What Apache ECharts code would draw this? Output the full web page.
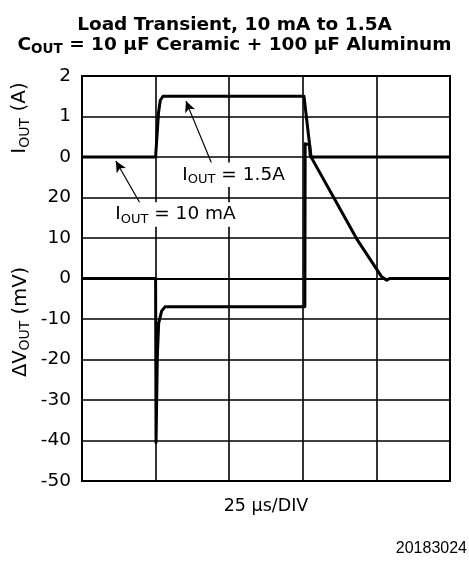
<!DOCTYPE html>
<html><head><meta charset="utf-8">
<script src="https://cdn.jsdelivr.net/npm/echarts@6/dist/echarts.min.js"></script>
<style>html,body{margin:0;padding:0;background:#fff}#c{width:469px;height:561px}</style>
</head><body><div id="c"></div>
<script>
// ---------- data ----------
const titleLine1 = 'Load Transient, 10 mA to 1.5A';
const titleLine2 = '{b|C}{s|OUT}{b| = 10 µF Ceramic + 100 µF Aluminum}';
const xAxisName = '25 µs/DIV';
const footnote = '20183024';
// time in µs (25 µs per division, 5 divisions)
const currentTime = [0, 25, 26.0, 26.6, 27.5, 75.4, 77.8, 125];
const currentAmps = [0, 0, 1.1, 1.4, 1.5, 1.5, 0, 0];
const voltageTime = [0, 25.0, 25.15, 25.6, 26.05, 27.07, 28.2, 75.7, 75.8, 77.3, 77.5, 85.4, 93.3, 101.8, 103.5, 104.5, 125];
const voltageMv   = [0, 0, -40.5, -19, -11, -8, -7, -7, 33.3, 33.0, 30.4, 20.1, 9.8, 0.4, -0.4, 0, 0];
// annotation anchors (µs, A)
const annotText = ['{i|I}{s|OUT}{i| = 1.5A}', '{i|I}{s|OUT}{i| = 10 mA}'];
const annotTextAt = [[33.4, -0.44], [10.6, -1.42]];
const arrowFrom = [[44.5, -0.24], [20.4, -1.23]];
const arrowTo = [[35.3, 1.38], [11.5, -0.10]];

const FONT = 'DejaVu Sans';
const K = '#000';

const zip = (a, b) => a.map((v, i) => [v, b[i]]);
const subRich = (size) => ({
  i: {fontFamily: FONT, fontSize: size, color: K, fill: K, lineHeight: size + 4, verticalAlign: 'middle'},
  s: {fontFamily: FONT, fontSize: Math.round(size * 0.72), color: K, fill: K, lineHeight: Math.round(size * 0.6), verticalAlign: 'bottom'}
});

const chart = echarts.init(document.getElementById('c'));
chart.setOption({
  animation: false,
  backgroundColor: '#fff',
  title: [
    {text: titleLine1, left: 'center', top: 11,
     textStyle: {fontFamily: FONT, fontSize: 18.5, fontWeight: 'bold', color: K}},
    {text: titleLine2, left: 'center', top: 29,
     textStyle: {rich: {
       b: {fontFamily: FONT, fontSize: 18.5, fontWeight: 'bold', color: K, lineHeight: 22, verticalAlign: 'middle'},
       s: {fontFamily: FONT, fontSize: 13.5, fontWeight: 'bold', color: K, lineHeight: 11, verticalAlign: 'bottom'}
     }}}
  ],
  grid: {left: 82, right: 19, top: 76, bottom: 80, show: true, borderColor: K, borderWidth: 2},
  xAxis: {
    type: 'value', min: 0, max: 125, interval: 25,
    axisLabel: {show: false}, axisTick: {show: false},
    axisLine: {show: true, lineStyle: {color: K, width: 2}},
    splitLine: {show: true, lineStyle: {color: K, width: 1.6}},
    name: xAxisName, nameLocation: 'middle', nameGap: 16,
    nameTextStyle: {fontFamily: FONT, fontSize: 17.5, color: K, verticalAlign: 'top'}
  },
  yAxis: [
    {type: 'value', min: -50, max: 50, interval: 10, position: 'left',
     axisLine: {show: true, lineStyle: {color: K, width: 2}}, axisTick: {show: false},
     splitLine: {show: true, lineStyle: {color: K, width: 1.6}},
     axisLabel: {margin: 11, fontFamily: FONT, fontSize: 18.5, color: K,
                 formatter: v => (v <= 20 ? String(v) : '')}},
    {type: 'value', min: -8, max: 2, interval: 1, position: 'left',
     axisLine: {show: false}, axisTick: {show: false}, splitLine: {show: false},
     axisLabel: {margin: 11, fontFamily: FONT, fontSize: 18.5, color: K,
                 formatter: v => (v >= 0 ? String(v) : '')}}
  ],
  series: [
    {type: 'line', name: 'ΔVOUT', yAxisIndex: 0, data: zip(voltageTime, voltageMv),
     showSymbol: false, symbol: 'none', lineStyle: {color: K, width: 3, join: 'round'}, z: 3},
    {type: 'line', name: 'IOUT', yAxisIndex: 1, data: zip(currentTime, currentAmps),
     showSymbol: false, symbol: 'none', lineStyle: {color: K, width: 3, join: 'round'}, z: 3,
     markLine: {
       silent: true, animation: false, symbol: ['none', 'arrow'], symbolSize: [8, 11],
       label: {show: false}, lineStyle: {color: K, width: 1.2, type: 'solid'},
       emphasis: {disabled: true},
       data: arrowFrom.map((f, i) => [{coord: f}, {coord: arrowTo[i]}])
     },
     markPoint: {
       silent: true, animation: false, symbol: 'circle', symbolSize: 0,
       data: annotText.map((t, i) => ({
         coord: annotTextAt[i],
         label: {show: true, position: 'right', distance: 0, formatter: t,
                 backgroundColor: '#fff', padding: [1, 2, 1, 2], rich: subRich(18.5)}
       }))
     }}
  ],
  graphic: [
    {type: 'text', x: 20, y: 118, rotation: Math.PI / 2,
     style: {text: '{i|I}{s|OUT}{i| (A)}', rich: subRich(20), align: 'center', verticalAlign: 'middle'}},
    {type: 'text', x: 21, y: 322, rotation: Math.PI / 2,
     style: {text: '{i|ΔV}{s|OUT}{i| (mV)}', rich: subRich(19.5), align: 'center', verticalAlign: 'middle'}},
    {type: 'text', x: 467, y: 549,
     style: {text: footnote, fill: K, font: '16px "Liberation Sans Narrow", "Liberation Sans", sans-serif',
             align: 'right', verticalAlign: 'middle'}}
  ]
});
</script>
</body></html>
